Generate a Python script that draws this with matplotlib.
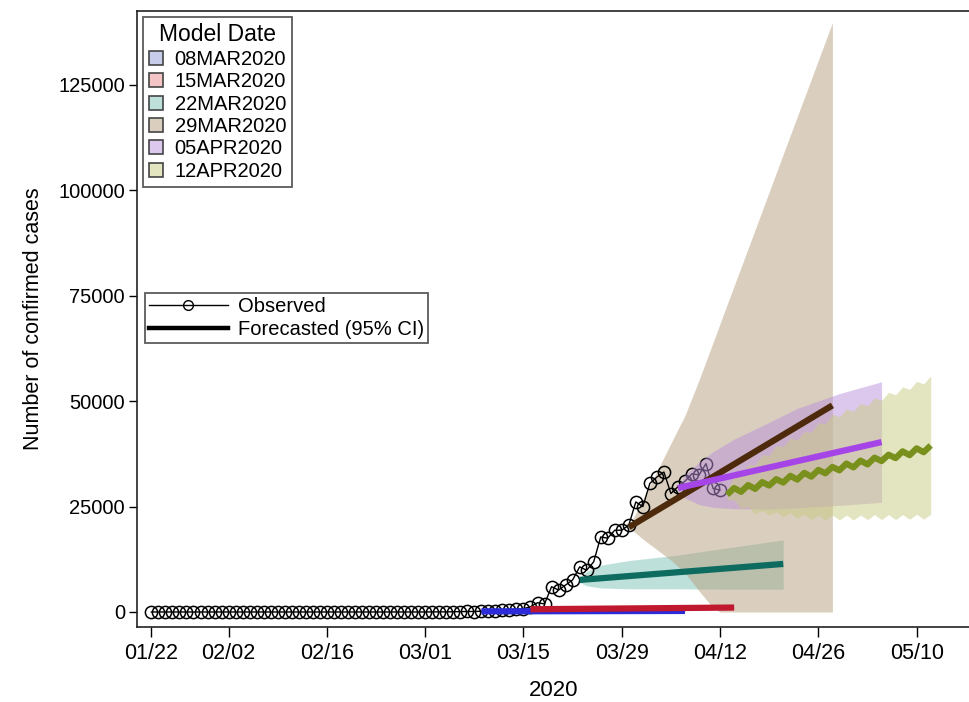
import numpy as np
import matplotlib
matplotlib.use("Agg")
import matplotlib.pyplot as plt
import matplotlib.dates as mdates
from matplotlib.colors import to_rgba
from matplotlib.patches import Patch
from matplotlib.lines import Line2D

plt.rcParams['font.family'] = ['Liberation Sans', 'DejaVu Sans']

# observed daily confirmed cases, one value per day from 22JAN2020
obs_start = '2020-01-22'
observed = [1, 0, 1, 0, 3, 0, 0, 0, 0, 1, 1, 0, 3, 0, 0, 0, 1, 0, 0, 0,
            0, 0, 0, 1, 0, 0, 0, 0, 0, 0, 0, 0, 0, 0, 0, 1, 0, 0, 0, 4,
            20, 27, 25, 60, 80, 120, 110, 180, 280, 330, 460, 560, 650, 780, 1260, 2200,
            1900, 6000, 5200, 6400, 7600, 10700, 9900, 11900, 17800, 17500, 19400, 19400,
            20600, 26100, 25000, 30500, 32000, 33200, 28100, 29700, 31000, 32800, 32500,
            35200, 29300, 28900]

model_dates = ['08MAR2020', '15MAR2020', '22MAR2020', '29MAR2020', '05APR2020', '12APR2020']
model_starts = ['2020-03-09', '2020-03-16', '2020-03-23', '2020-03-30', '2020-04-06', '2020-04-13']
band_colors = ['#8f9bd6', '#e88c8c', '#7fc3b8', '#b79f7e', '#bb92dd', '#c9cb82']
line_colors = ['#2b2bd9', '#c0182e', '#0e6b60', '#4e2a0c', '#a545e8', '#7a901c']

# forecasts: day offsets from forecast start, point forecast and 95% CI
mar08_x = [0, 29]
mar08_y = [150, 250]
mar08_band_x = [0, 29]
mar08_lo = [0, 0]
mar08_hi = [350, 600]

mar15_x = [0, 29]
mar15_y = [650, 1050]
mar15_band_x = [0, 29]
mar15_lo = [500, 600]
mar15_hi = [800, 1500]

mar22_x = [0, 29]
mar22_y = [7600, 11400]
mar22_band_x = [0, 1, 3, 7, 14, 21, 29]
mar22_lo = [7000, 6200, 5700, 5500, 5500, 5400, 5400]
mar22_hi = [8200, 9600, 11100, 12200, 13500, 15200, 17100]

mar29_x = [0, 29]
mar29_y = [20100, 49000]
mar29_band_x = [0, 2, 4, 6, 8, 10, 12, 13, 14, 18, 22, 26, 29]
mar29_lo = [20100, 17300, 14800, 12300, 9300, 5000, 1000, 0, 0, 0, 0, 0, 0]
mar29_hi = [20100, 26700, 33300, 40000, 46600, 55000, 63900, 68400, 72900,
            90700, 108600, 126400, 139800]

apr05_x = [0, 29]
apr05_y = [29400, 40300]
apr05_band_x = [0, 1, 3, 5, 8, 13, 17, 23, 29]
apr05_lo = [28900, 27000, 25500, 24800, 24500, 24400, 24700, 25300, 26000]
apr05_hi = [29800, 32500, 35500, 38000, 41000, 45000, 48300, 51800, 54600]

apr12_x = list(range(30))
apr12_y = [27800, 29400, 28500, 30100, 29200, 30800, 30000, 31500, 30700, 32300,
           31400, 33000, 32100, 33700, 32900, 34400, 33600, 35200, 34300, 35900,
           35000, 36600, 35800, 37300, 36500, 38100, 37200, 38800, 37900, 39500]
apr12_band_x = list(range(30))
apr12_lo = [26600, 26600, 24500, 25000, 23300, 24100, 22900, 23800, 22600, 23600,
            22200, 23200, 21900, 23000, 21800, 23000, 21800, 23000, 21800, 23000,
            21900, 23100, 21900, 23100, 21900, 23100, 22000, 23200, 22000, 23200]
apr12_hi = [29200, 32100, 32400, 34900, 34900, 37300, 37200, 39400, 39200, 41200,
            40800, 42800, 42600, 44900, 44700, 46900, 46300, 48200, 47600, 49500,
            48900, 50800, 50200, 52100, 51500, 53400, 52800, 54700, 54100, 56000]

forecasts = [
    (mar08_x, mar08_y, mar08_band_x, mar08_lo, mar08_hi),
    (mar15_x, mar15_y, mar15_band_x, mar15_lo, mar15_hi),
    (mar22_x, mar22_y, mar22_band_x, mar22_lo, mar22_hi),
    (mar29_x, mar29_y, mar29_band_x, mar29_lo, mar29_hi),
    (apr05_x, apr05_y, apr05_band_x, apr05_lo, apr05_hi),
    (apr12_x, apr12_y, apr12_band_x, apr12_lo, apr12_hi),
]

xtick_dates = ['2020-01-22', '2020-02-02', '2020-02-16', '2020-03-01', '2020-03-15',
               '2020-03-29', '2020-04-12', '2020-04-26', '2020-05-10']
yticks = [0, 25000, 50000, 75000, 100000, 125000]


def days(start, offsets):
    return np.datetime64(start) + np.array(offsets, dtype='timedelta64[D]')


fig = plt.figure(figsize=(9.7, 7.02), dpi=100)
ax = fig.add_axes([136.7 / 970, 1 - 626.7 / 702, 1 - 136.7 / 970, (626.7 - 11) / 702])

# bands first, older models under the observed series, newer ones over it
for i, (lx, ly, bx, lo, hi) in enumerate(forecasts):
    z = 1 if i < 4 else 3
    ax.fill_between(days(model_starts[i], bx), lo, hi, color=band_colors[i],
                    alpha=0.5, lw=0, zorder=z)

obs_x = days(obs_start, range(len(observed)))
ax.plot(obs_x, observed, color='black', lw=1, marker='o', ms=8.8,
        mfc='none', mec='black', mew=1.1, zorder=2)

for i, (lx, ly, bx, lo, hi) in enumerate(forecasts):
    ax.plot(days(model_starts[i], lx), ly, color=line_colors[i], lw=4.5,
            solid_capstyle='butt', zorder=4)

base = mdates.date2num(np.datetime64(obs_start))
ax.set_xlim(base - 2.09, base + 116.6)
ax.set_ylim(-3490, 142550)
ax.set_xticks([mdates.date2num(np.datetime64(d)) for d in xtick_dates])
ax.xaxis.set_major_formatter(mdates.DateFormatter('%m/%d'))
ax.set_yticks(yticks)
ax.set_yticklabels([str(v) for v in yticks])
ax.tick_params(axis='x', length=7, width=1, labelsize=15.5, pad=5)
ax.tick_params(axis='y', length=5.5, width=1, labelsize=14.5, pad=3)
ax.set_xlabel('2020', fontsize=16, labelpad=11)
ax.set_ylabel('Number of confirmed cases', fontsize=15.5, labelpad=10)
for side in ['left', 'bottom', 'top']:
    ax.spines[side].set_linewidth(1.2)
    ax.spines[side].set_color('#222222')
ax.spines['right'].set_visible(False)

# model date legend
patches = [Patch(facecolor=to_rgba(c, 0.5), edgecolor='#444444', lw=1.2)
           for c in band_colors]
leg1 = fig.legend(patches, model_dates, title='Model Date', loc='upper left',
                  bbox_to_anchor=(143.3 / 970, 1 - 17.3 / 702),
                  bbox_transform=fig.transFigure, fontsize=14.5, title_fontsize=16.5,
                  frameon=True, fancybox=False, edgecolor='#333333',
                  handlelength=0.7, handleheight=0.7, handletextpad=0.55,
                  labelspacing=0.17, borderpad=0.3, borderaxespad=0)
leg1.get_frame().set_linewidth(1.3)

# observed / forecast legend
kinds = [Line2D([], [], color='black', lw=1, marker='o', ms=7, mfc='none', mec='black'),
         Line2D([], [], color='black', lw=3.2)]
leg2 = fig.legend(kinds, ['Observed', 'Forecasted (95% CI)'], loc='upper left',
                  bbox_to_anchor=(145 / 970, 1 - 293.3 / 702),
                  bbox_transform=fig.transFigure, fontsize=14.5,
                  frameon=True, fancybox=False, edgecolor='#333333',
                  handlelength=3.9, handletextpad=0.5, labelspacing=0.2,
                  borderpad=0.2, borderaxespad=0)
leg2.get_frame().set_linewidth(1.3)

fig.savefig('out.png', dpi=100)
